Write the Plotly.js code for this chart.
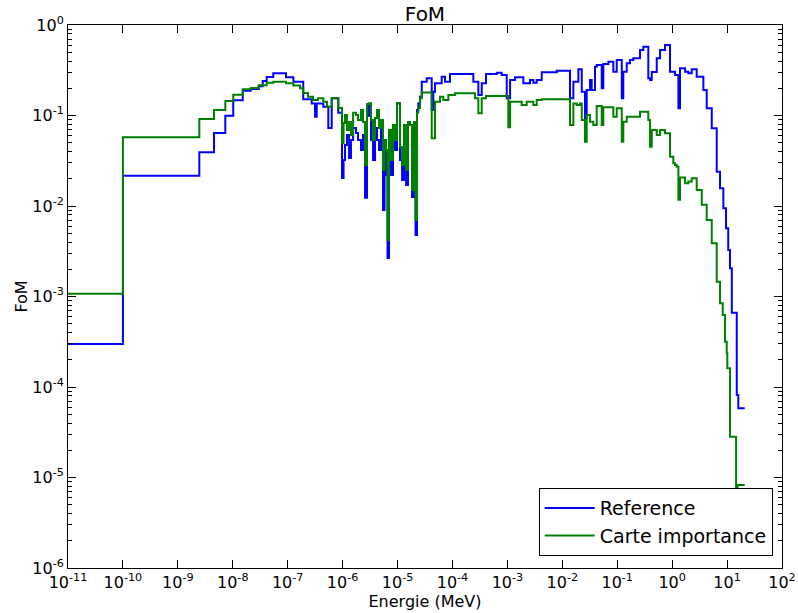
<!DOCTYPE html>
<html>
<head>
<meta charset="utf-8">
<script src="https://cdn.plot.ly/plotly-3.0.1.min.js"></script>
<style>html,body{margin:0;padding:0;background:#fff;}#chart{width:798px;height:613px;}</style>
</head>
<body>
<div id="chart"></div>
<script>
// Bin edges (MeV): lower edge of each bin, plus the final upper edge
const energy = [
1e-11, 1e-10, 2.46e-9, 4.55e-9, 7.31e-9, 1.02e-8, 1.52e-8, 2.12e-8, 2.97e-8, 3.51e-8,
4.15e-8, 5.47e-8, 9.32e-8, 1.27e-7, 1.68e-7, 1.92e-7, 2.34e-7, 2.74e-7, 2.89e-7, 3.14e-7,
3.38e-7, 3.56e-7, 4.45e-7, 5.20e-7, 5.49e-7, 6.33e-7, 8.35e-7, 9.75e-7, 1.04e-6, 1.106e-6,
1.20e-6, 1.31e-6, 1.42e-6, 1.55e-6, 1.75e-6, 1.91e-6, 2.16e-6, 2.35e-6, 2.56e-6, 2.78e-6,
3.03e-6, 3.29e-6, 3.58e-6, 3.89e-6, 4.23e-6, 4.60e-6, 5.00e-6, 5.44e-6, 5.80e-6, 6.17e-6,
6.57e-6, 7.00e-6, 7.61e-6, 8.27e-6, 9.0e-6, 9.78e-6, 1.11e-5, 1.21e-5, 1.31e-5, 1.43e-5,
1.55e-5, 1.69e-5, 1.835e-5, 2.0e-5, 2.13e-5, 2.26e-5, 2.39e-5, 2.57e-5, 2.76e-5, 3.40e-5,
4.19e-5, 4.48e-5, 4.81e-5, 5.94e-5, 6.37e-5, 6.82e-5, 7.32e-5, 8.41e-5, 9.03e-5, 1.11e-4,
2.40e-4, 2.57e-4, 2.96e-4, 3.41e-4, 4.08e-4, 6.40e-4, 7.89e-4, 9.73e-4, 1.04e-3, 1.12e-3,
1.38e-3, 1.82e-3, 1.95e-3, 2.25e-3, 2.58e-3, 2.97e-3, 3.42e-3, 4.22e-3, 7.91e-3, 1.38e-2,
1.59e-2, 1.83e-2, 1.96e-2, 2.10e-2, 2.26e-2, 2.59e-2, 2.78e-2, 3.20e-2, 3.43e-2, 3.67e-2,
3.94e-2, 4.23e-2, 5.22e-2, 5.58e-2, 6.89e-2, 8.49e-2, 9.79e-2, 0.121, 0.129, 0.149,
0.171, 0.196, 0.260, 0.299, 0.368, 0.396, 0.425, 0.524, 0.602, 0.742,
0.915, 1.05, 1.13, 1.21, 1.30, 1.39, 1.72, 1.97, 2.27, 2.80,
3.46, 3.70, 4.26, 5.26, 6.48, 7.44, 8.33, 8.55, 9.18, 9.57,
9.86, 10.1, 10.5, 11.3, 12.2, 14.6, 15.0, 15.5, 16.0, 21
];

// FoM per bin — Reference
const fomReference = [
2.99e-4, 0.0216, 0.0392, 0.0641, 0.0995, 0.147, 0.188, 0.196, 0.210, 0.241,
0.266, 0.293, 0.264, 0.236, 0.236, 0.151, 0.151, 0.136, 0.136, 0.097,
0.136, 0.136, 0.125, 0.125, 0.0728, 0.155, 0.107, 0.0204, 0.0322, 0.0472,
0.0609, 0.0339, 0.0536, 0.0728, 0.0641, 0.0536, 0.0416, 0.0609, 0.0123, 0.0995,
0.131, 0.0536, 0.0322, 0.0728, 0.0536, 0.0416, 0.0785, 0.00903, 0.0416, 0.022,
0.00266, 0.0536, 0.022, 0.0692, 0.0416, 0.137, 0.0322, 0.0194, 0.0416, 0.0171,
0.0848, 0.0785, 0.0126, 0.0848, 0.00478, 0.115, 0.137, 0.161, 0.236, 0.258,
0.115, 0.183, 0.227, 0.227, 0.268, 0.268, 0.236, 0.236, 0.287, 0.287,
0.236, 0.236, 0.168, 0.227, 0.287, 0.297, 0.280, 0.155, 0.155, 0.247,
0.264, 0.264, 0.227, 0.227, 0.247, 0.230, 0.247, 0.300, 0.313, 0.155,
0.236, 0.236, 0.324, 0.324, 0.183, 0.0931, 0.191, 0.247, 0.191, 0.191,
0.346, 0.361, 0.200, 0.371, 0.393, 0.305, 0.411, 0.155, 0.305, 0.378,
0.411, 0.429, 0.529, 0.576, 0.258, 0.247, 0.303, 0.429, 0.529, 0.601,
0.305, 0.305, 0.280, 0.280, 0.120, 0.332, 0.305, 0.293, 0.324, 0.268,
0.268, 0.191, 0.120, 0.0722, 0.0239, 0.0157, 0.0157, 0.00943, 0.00943, 0.00567,
0.00567, 0.00567, 0.00327, 0.00205, 6.62e-4, 6.62e-4, 8.16e-5, 8.16e-5, 5.82e-5
];

// FoM per bin — Carte importance
const fomImportance = [
1.07e-3, 0.0574, 0.0915, 0.115, 0.1446, 0.170, 0.195, 0.201, 0.216, 0.216,
0.230, 0.236, 0.227, 0.214, 0.200, 0.177, 0.161, 0.161, 0.148, 0.148,
0.148, 0.155, 0.142, 0.125, 0.125, 0.155, 0.121, 0.0497, 0.0826, 0.101,
0.0692, 0.0848, 0.0609, 0.107, 0.101, 0.0892, 0.115, 0.0848, 0.0284, 0.134,
0.137, 0.0892, 0.0536, 0.0939, 0.115, 0.0728, 0.0892, 0.025, 0.0536, 0.0416,
0.00421, 0.0692, 0.0322, 0.0785, 0.0536, 0.137, 0.0449, 0.0284, 0.0785, 0.025,
0.0848, 0.0785, 0.0150, 0.0848, 0.0070, 0.107, 0.121, 0.155, 0.179, 0.179,
0.056, 0.056, 0.142, 0.161, 0.161, 0.148, 0.148, 0.168, 0.168, 0.176,
0.176, 0.155, 0.106, 0.155, 0.164, 0.164, 0.164, 0.164, 0.0741, 0.142,
0.142, 0.131, 0.131, 0.142, 0.142, 0.131, 0.148, 0.151, 0.151, 0.0785,
0.136, 0.131, 0.131, 0.136, 0.0892, 0.0513, 0.101, 0.0854, 0.0854, 0.0785,
0.0785, 0.127, 0.0785, 0.123, 0.123, 0.097, 0.120, 0.0513, 0.0854, 0.097,
0.097, 0.097, 0.110, 0.110, 0.0892, 0.0452, 0.0692, 0.0609, 0.0692, 0.0636,
0.0351, 0.0296, 0.0284, 0.0272, 0.0117, 0.0207, 0.0178, 0.0186, 0.0202, 0.0150,
0.0103, 0.0103, 0.0070, 0.00387, 0.00146, 8.41e-4, 6.25e-4, 6.25e-4, 3.17e-4, 3.17e-4,
2.36e-4, 1.61e-4, 1.61e-4, 2.82e-5, 2.82e-5, 2.6e-6, 2.6e-6, 8.26e-6, 8.26e-6
];

const seriesNames = ['Reference', 'Carte importance'];
const seriesColors = ['#0000ff', '#008000'];

// Tick positions and labels
const xTickVals = [1e-11, 1e-10, 1e-9, 1e-8, 1e-7, 1e-6, 1e-5, 1e-4, 1e-3, 1e-2, 1e-1, 1e0, 1e1, 1e2];
const xTickText = ['10<sup>-11</sup>', '10<sup>-10</sup>', '10<sup>-9</sup>', '10<sup>-8</sup>', '10<sup>-7</sup>',
  '10<sup>-6</sup>', '10<sup>-5</sup>', '10<sup>-4</sup>', '10<sup>-3</sup>', '10<sup>-2</sup>',
  '10<sup>-1</sup>', '10<sup>0</sup>', '10<sup>1</sup>', '10<sup>2</sup>'];
const yTickVals = [1e-6, 1e-5, 1e-4, 1e-3, 1e-2, 1e-1, 1e0];
const yTickText = ['10<sup>-6</sup>', '10<sup>-5</sup>', '10<sup>-4</sup>', '10<sup>-3</sup>',
  '10<sup>-2</sup>', '10<sup>-1</sup>', '10<sup>0</sup>'];

function stepY(vals) { return vals.concat([vals[vals.length - 1]]); }

const traces = [fomReference, fomImportance].map((vals, i) => ({
  x: energy,
  y: stepY(vals),
  type: 'scatter',
  mode: 'lines',
  name: seriesNames[i],
  line: {color: seriesColors[i], width: 2, shape: 'hv'}
}));

const font = 'DejaVu Sans, sans-serif';
const axisCommon = {
  type: 'log',
  tickmode: 'array',
  showgrid: false,
  zeroline: false,
  showline: true,
  linecolor: '#000',
  linewidth: 1,
  mirror: 'ticks',
  ticks: 'inside',
  ticklen: 8,
  tickwidth: 1,
  tickcolor: '#000',
  tickfont: {family: font, size: 16, color: '#000'}
};

const layout = {
  width: 798,
  height: 613,
  margin: {l: 68, r: 16, t: 25, b: 45},
  paper_bgcolor: '#fff',
  plot_bgcolor: '#fff',
  font: {family: font, color: '#000', size: 16},
  title: {text: 'FoM', font: {family: font, size: 20, color: '#000'}, x: 0.5, xanchor: 'center', xref: 'paper', y: 0.977, yanchor: 'middle'},
  xaxis: Object.assign({}, axisCommon, {
    range: [-11, 2],
    tickvals: xTickVals,
    ticktext: xTickText,
    title: {text: 'Energie (MeV)', font: {family: font, size: 16, color: '#000'}, standoff: 2}
  }),
  yaxis: Object.assign({}, axisCommon, {
    range: [-6, 0],
    tickvals: yTickVals,
    ticktext: yTickText,
    minor: {ticks: 'inside', ticklen: 4, tickcolor: '#000', dtick: 'D1', showgrid: false},
    title: {text: 'FoM', font: {family: font, size: 16, color: '#000'}, standoff: 0}
  }),
  legend: {
    x: 0.987, xanchor: 'right',
    y: 0.022, yanchor: 'bottom',
    bgcolor: '#fff',
    bordercolor: '#000',
    borderwidth: 1,
    itemwidth: 50,
    font: {family: font, size: 19, color: '#000'}
  },
  showlegend: true
};

Plotly.newPlot('chart', traces, layout, {displayModeBar: false, staticPlot: true});
</script>
</body>
</html>
